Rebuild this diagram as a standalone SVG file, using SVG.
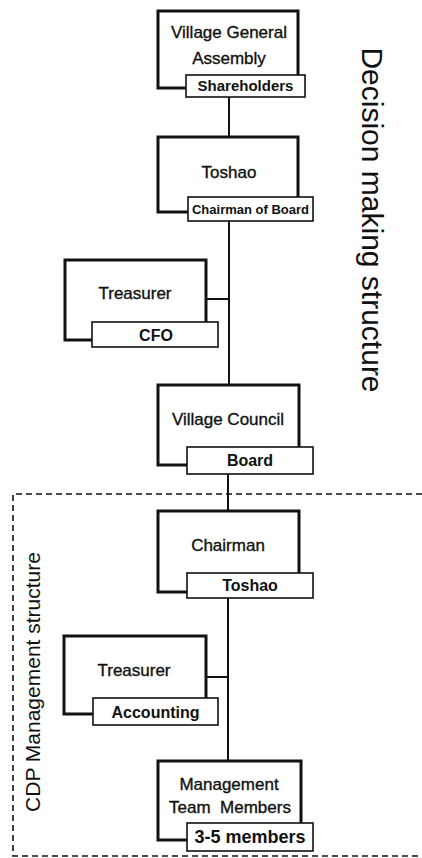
<svg xmlns="http://www.w3.org/2000/svg" width="422" height="858" viewBox="0 0 422 858">
<style>
.box{fill:#fff;stroke:#111;stroke-width:3}
.lbl{fill:#fff;stroke:#111;stroke-width:1.6}
.t{font-family:"Liberation Sans",Arial,sans-serif;font-size:17px;fill:#111;stroke:#111;stroke-width:0.35;text-anchor:middle}
.l{font-family:"Liberation Sans",Arial,sans-serif;font-size:16px;font-weight:bold;fill:#111;text-anchor:middle}
.con{fill:none;stroke:#111;stroke-width:2}
.dash{fill:none;stroke:#111;stroke-width:1.6;stroke-dasharray:6 4}
.side{font-family:"Liberation Sans",Arial,sans-serif;fill:#111;text-anchor:middle}
</style>
<rect width="422" height="858" fill="#fff"/>
<g id="connectors">
<line class="con" x1="229" y1="97" x2="229" y2="137"/>
<line class="con" x1="229" y1="221" x2="229" y2="385"/>
<line class="con" x1="206" y1="299" x2="229" y2="299"/>
<line class="con" x1="228" y1="474" x2="228" y2="511"/>
<line class="con" x1="228" y1="598" x2="228" y2="761"/>
<line class="con" x1="206" y1="677" x2="228" y2="677"/>
</g>
<g id="cdp-boundary">
<path class="dash" d="M422,494 H13 V856 H422"/>
</g>
<g id="village-general-assembly">
<rect class="box" x="158" y="11" width="140" height="77"/>
<text class="t" x="229" y="38">Village General</text>
<text class="t" x="229" y="64">Assembly</text>
<rect class="lbl" x="186" y="75" width="119" height="22"/>
<text class="l" x="245.5" y="91" style="font-size:15px">Shareholders</text>
</g>
<g id="toshao">
<rect class="box" x="158" y="137" width="140" height="75"/>
<text class="t" x="229" y="178">Toshao</text>
<rect class="lbl" x="188" y="197" width="125" height="24"/>
<text class="l" x="250.5" y="214" style="font-size:13px">Chairman of Board</text>
</g>
<g id="treasurer-cfo">
<rect class="box" x="65" y="260" width="141" height="80"/>
<text class="t" x="135" y="299">Treasurer</text>
<rect class="lbl" x="92" y="322" width="126" height="25"/>
<text class="l" x="156" y="341">CFO</text>
</g>
<g id="village-council">
<rect class="box" x="158" y="385" width="141" height="80"/>
<text class="t" x="228" y="425">Village Council</text>
<rect class="lbl" x="187" y="447" width="126" height="27"/>
<text class="l" x="250" y="466">Board</text>
</g>
<g id="chairman">
<rect class="box" x="158" y="511" width="141" height="81"/>
<text class="t" x="228" y="551">Chairman</text>
<rect class="lbl" x="187" y="573" width="126" height="25"/>
<text class="l" x="250" y="591">Toshao</text>
</g>
<g id="treasurer-accounting">
<rect class="box" x="64" y="636" width="142" height="78"/>
<text class="t" x="134" y="676">Treasurer</text>
<rect class="lbl" x="93" y="698" width="125" height="27"/>
<text class="l" x="155.5" y="718">Accounting</text>
</g>
<g id="management-team">
<rect class="box" x="158" y="761" width="143" height="79"/>
<text class="t" x="229" y="790">Management</text>
<text class="t" x="230" y="813" xml:space="preserve">Team  Members</text>
<rect class="lbl" x="187" y="823" width="126" height="28"/>
<text class="l" x="250" y="843" style="font-size:18px">3-5 members</text>
</g>
<g id="side-labels">
<text class="side" x="362" y="220" font-size="30" transform="rotate(90 362 220)">Decision making structure</text>
<text class="side" x="40" y="682" font-size="21" transform="rotate(-90 40 682)">CDP Management structure</text>
</g>
</svg>
